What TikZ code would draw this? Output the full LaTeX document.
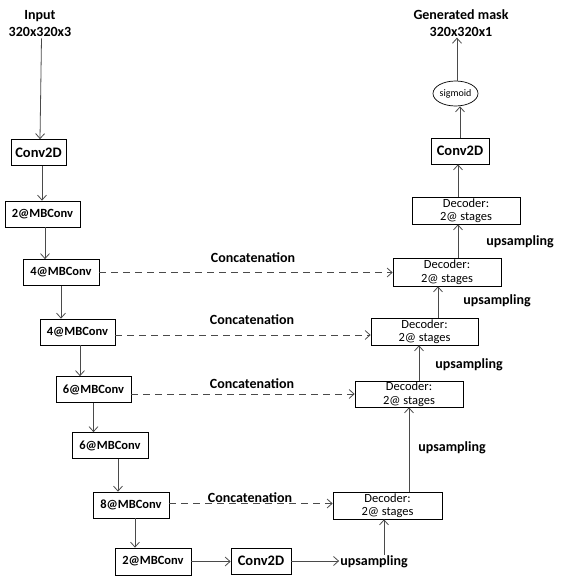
\documentclass[tikz,border=0pt]{standalone}
\usepackage{fontspec}
\setmainfont{Carlito}
\usetikzlibrary{arrows.meta,shapes.geometric}
\definecolor{linec}{HTML}{4A4A4A}
\tikzset{
  box/.style={draw=black, line width=0.7pt, inner sep=0pt, align=center},
  mbbox/.style={box, minimum width=76pt, minimum height=26pt, font=\fontsize{12.5}{14}\selectfont\bfseries},
  convbox/.style={box, minimum width=57pt, minimum height=26pt, font=\fontsize{14.5}{16}\selectfont\bfseries},
  decbox/.style={box, minimum width=108pt, minimum height=27pt, font=\fontsize{12.5}{13.5}\selectfont},
  lbl/.style={font=\fontsize{14}{17}\selectfont\bfseries, inner sep=1pt, align=center},
  arr/.style={draw=linec, line width=0.8pt, -{Straight Barb[length=5pt,width=9pt]}},
  dash arr/.style={arr, dash pattern=on 7pt off 5pt},
}
\begin{document}
\begin{tikzpicture}[x=1pt,y=-1pt]
\useasboundingbox (0,0) rectangle (562,578);
% encoder
\node[lbl] (input) at (40,24) {Input\\320x320x3};
\node[convbox, minimum width=55pt] (conv1) at (38.5,152.5) {Conv2D};
\node[mbbox, minimum width=75pt] (mb1) at (42.5,214) {2@MBConv};
\node[mbbox] (mb2) at (61,272.5) {4@MBConv};
\node[mbbox, minimum width=75pt] (mb3) at (77.5,332) {4@MBConv};
\node[mbbox, minimum width=75pt] (mb4) at (93.5,389.5) {6@MBConv};
\node[mbbox] (mb5) at (110,445.5) {6@MBConv};
\node[mbbox] (mb6) at (131,505) {8@MBConv};
\node[mbbox, minimum height=27pt] (mb7) at (153,561.5) {2@MBConv};
\node[convbox, minimum width=60pt] (conv2) at (261,561) {Conv2D};
\node[lbl] (up0) at (374,562) {upsampling};
% decoder
\node[decbox, minimum width=109pt] (dec4) at (387.5,505.5) {Decoder:\\2@ stages};
\node[decbox, minimum height=26pt] (dec3) at (409,394) {Decoder:\\2@ stages};
\node[decbox, minimum width=107pt] (dec2) at (424.5,331.5) {Decoder:\\2@ stages};
\node[decbox, minimum height=28pt] (dec1) at (447,272) {Decoder:\\2@ stages};
\node[decbox] (dec0) at (466,210.5) {Decoder:\\2@ stages};
\node[convbox, minimum width=58pt] (conv3) at (460,151) {Conv2D};
\node[draw=black, line width=0.7pt, ellipse, minimum width=45pt, minimum height=25pt, inner sep=0pt, font=\fontsize{10}{11}\selectfont] (sig) at (455.5,93.5) {sigmoid};
\node[lbl] (gen) at (461,23) {Generated mask\\320x320x1};
% labels
\node[lbl] (up1) at (452,448) {upsampling};
\node[lbl] (up2) at (469,365) {upsampling};
\node[lbl] (up3) at (497,301) {upsampling};
\node[lbl] (up4) at (520,242) {upsampling};
\node[lbl] (cat1) at (253,258) {Concatenation};
\node[lbl] (cat2) at (252,320) {Concatenation};
\node[lbl] (cat3) at (252,384) {Concatenation};
\node[lbl] (cat4) at (250,498) {Concatenation};
% encoder arrows
\draw[arr] ([xshift=1.5pt]input.south) -- ([xshift=1.5pt]conv1.north);
\draw[arr] ([xshift=3.5pt]conv1.south) -- ([xshift=3.5pt]conv1.south |- mb1.north);
\draw[arr] ([xshift=2.5pt]mb1.south) -- ([xshift=2.5pt]mb1.south |- mb2.north);
\draw[arr] (mb2.south) -- (mb2.south |- mb3.north);
\draw[arr] ([xshift=2.5pt]mb3.south) -- ([xshift=2.5pt]mb3.south |- mb4.north);
\draw[arr] (mb4.south) -- (mb4.south |- mb5.north);
\draw[arr] ([xshift=8pt]mb5.south) -- ([xshift=8pt]mb5.south |- mb6.north);
\draw[arr] ([xshift=4pt]mb6.south) -- ([xshift=4pt]mb6.south |- mb7.north);
\draw[arr] (mb7.east) -- (mb7.east -| conv2.west);
\draw[arr] (conv2.east) -- (conv2.east -| up0.west);
% decoder arrows
\draw[arr] ([xshift=10pt]up0.north) -- ([xshift=10pt]up0.north |- dec4.south);
\draw[arr] (dec4.north -| dec3.south) -- (dec3.south);
\draw[arr] ([xshift=-5.5pt]dec2.south |- dec3.north) -- ([xshift=-5.5pt]dec2.south);
\draw[arr] ([xshift=-9pt]dec1.south |- dec2.north) -- ([xshift=-9pt]dec1.south);
\draw[arr] ([xshift=-8pt]dec0.south |- dec1.north) -- ([xshift=-8pt]dec0.south);
\draw[arr] ([xshift=-2pt]conv3.south |- dec0.north) -- ([xshift=-2pt]conv3.south);
\draw[arr] (conv3.north) -- (conv3.north |- sig.south);
\draw[arr] ([xshift=1.5pt]sig.north) -- ([xshift=1.5pt]sig.north |- gen.south);
% skip connections
\draw[dash arr] (mb2.east) -- (mb2.east -| dec1.west);
\draw[dash arr] ([yshift=-3pt]mb3.east) -- ([yshift=-3pt]mb3.east -| dec2.west);
\draw[dash arr] (dec3.west -| mb4.east) -- (dec3.west);
\draw[dash arr] ([yshift=1.5pt]mb6.east) -- ([yshift=1.5pt]mb6.east -| dec4.west);
\end{tikzpicture}
\end{document}
